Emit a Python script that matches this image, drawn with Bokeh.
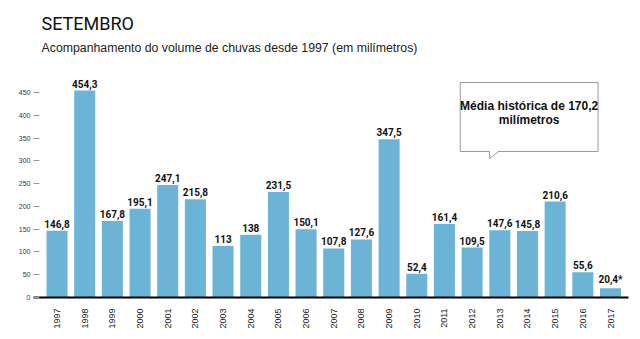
from bokeh.plotting import figure
from bokeh.models import FixedTicker, Label, Range1d
from bokeh.core.properties import value
from bokeh.embed import file_html
from bokeh.resources import INLINE
import math

years = list(range(1997, 2018))
rain = [146.8, 454.3, 167.8, 195.1, 247.1, 215.8, 113, 138, 231.5, 150.1,
        107.8, 127.6, 347.5, 52.4, 161.4, 109.5, 147.6, 145.8, 210.6, 55.6, 20.4]
rain_labels = ["146,8", "454,3", "167,8", "195,1", "247,1", "215,8", "113", "138",
               "231,5", "150,1", "107,8", "127,6", "347,5", "52,4", "161,4", "109,5",
               "147,6", "145,8", "210,6", "55,6", "20,4*"]
y_ticks = [0, 50, 100, 150, 200, 250, 300, 350, 400, 450]
title_text = "SETEMBRO"
subtitle_text = "Acompanhamento do volume de chuvas desde 1997 (em milímetros)"
note_lines = ["Média histórica de 170,2", "milímetros"]

NARROW = "Roboto"
SANS = "Liberation Sans, Arial, Helvetica, sans-serif"

p = figure(width=640, height=339, output_backend="svg", toolbar_location=None,
           x_range=Range1d(1996.15, 2017.65), y_range=Range1d(0, 652),
           min_border_left=33, min_border_right=12, min_border_top=0,
           min_border_bottom=42)
p.outline_line_color = None
p.grid.grid_line_color = None
p.background_fill_color = "white"
p.border_fill_color = "white"

p.vbar(x=years, top=rain, width=0.76, color="#6cb4d6", line_color=None)
p.text(x=years, y=rain, text=rain_labels, text_align="center", text_baseline="bottom",
       y_offset=-3, text_font=value(NARROW), text_font_style="bold",
       text_font_size="10px", text_color="#111111")

# x axis
xa = p.xaxis[0]
xa.ticker = FixedTicker(ticks=years)
xa.major_label_orientation = math.pi / 2
xa.axis_line_color = "black"
xa.axis_line_width = 2
xa.major_tick_line_color = None
xa.minor_tick_line_color = None
xa.major_label_text_font = SANS
xa.major_label_text_font_size = "9px"
xa.major_label_text_color = "#222222"
xa.major_label_standoff = 5

# y axis
ya = p.yaxis[0]
ya.ticker = FixedTicker(ticks=y_ticks)
ya.axis_line_color = None
ya.major_tick_in = 6
ya.major_tick_out = 0
ya.major_tick_line_color = "#999999"
ya.minor_tick_line_color = None
ya.major_label_text_font = SANS
ya.major_label_text_font_size = "7px"
ya.major_label_text_color = "#333333"
ya.major_label_standoff = 3

# note box with tail
bx0, bx1, by0, by1 = 2011.57, 2016.55, 320.5, 472
p.quad(left=[bx0], right=[bx1], bottom=[by0], top=[by1], fill_color="white",
       line_color="#9a9a9a", line_width=1)
tx0, tx1, ty = 2012.63, 2012.96, 305
p.patch(x=[tx0, tx0, tx1], y=[by0 + 1.5, ty, by0 + 1.5], fill_color="white", line_color=None)
p.line(x=[tx0, tx0, tx1], y=[by0, ty, by0], line_color="#9a9a9a", line_width=1)
p.text(x=[2014.06, 2014.06], y=[421.4, 390.7], text=note_lines, text_align="center",
       text_baseline="middle", text_font=value(SANS), text_font_style="bold",
       text_font_size="12px", text_color="#111111")

# titles
p.add_layout(Label(x=1996.44, y=601, text=title_text, text_baseline="middle",
                   text_font=NARROW, text_font_size="18px", text_color="#111111"))
p.add_layout(Label(x=1996.44, y=548, text=subtitle_text, text_baseline="middle",
                   text_font=SANS, text_font_size="12.3px", text_color="#222222"))

open("out.html", "w").write(file_html(p, INLINE))
